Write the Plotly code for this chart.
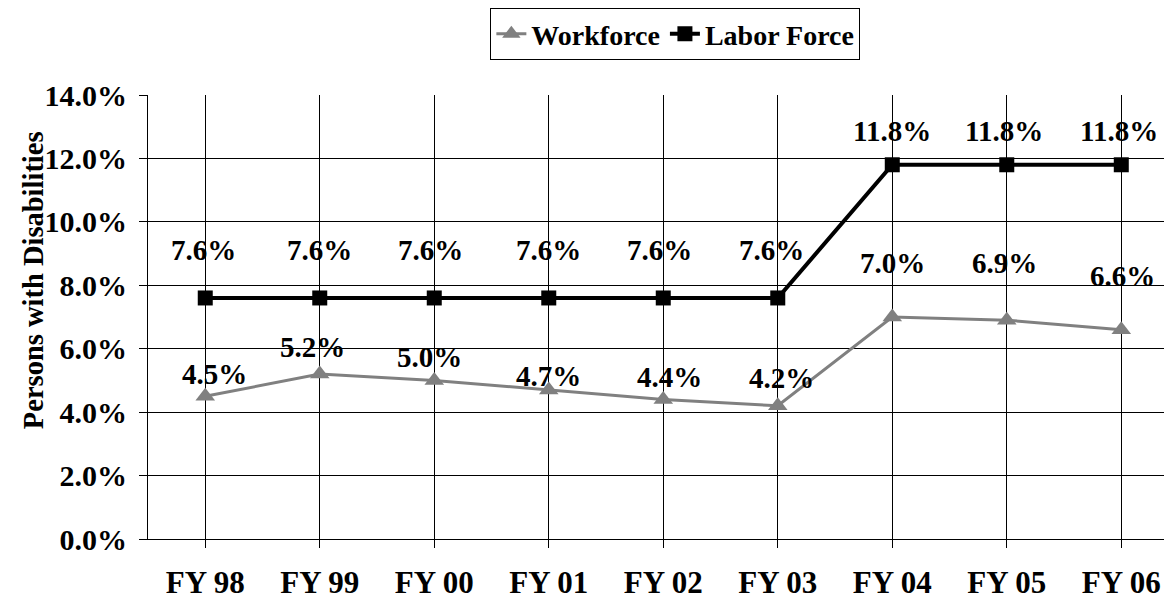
import plotly.graph_objects as go

categories = ["FY 98", "FY 99", "FY 00", "FY 01", "FY 02", "FY 03", "FY 04", "FY 05", "FY 06"]
workforce = [4.5, 5.2, 5.0, 4.7, 4.4, 4.2, 7.0, 6.9, 6.6]
labor_force = [7.6, 7.6, 7.6, 7.6, 7.6, 7.6, 11.8, 11.8, 11.8]
y_ticks = [0, 2, 4, 6, 8, 10, 12, 14]

# label offsets (style)
wf_yshift = [22, 27, 23, 14, 22, 28, 54, 57, 54]
wf_xshift = [9, -7, -5, 0, 6, 4, 0, -2, 1]
lf_yshift = [48, 48, 48, 48, 48, 48, 34, 34, 34]
lf_xshift = [-2, 0, -4, 0, -4, -6, 0, -3, -2]

FONT = "Liberation Serif"
fs = 29

xs = list(range(len(categories)))

fig = go.Figure()
fig.add_trace(go.Scatter(
    x=xs, y=workforce, mode="lines+markers", name="<b>Workforce</b>",
    line=dict(color="#808080", width=3),
    marker=dict(symbol="triangle-up", size=17, color="#808080"),
))
fig.add_trace(go.Scatter(
    x=xs, y=labor_force, mode="lines+markers", name="<b>Labor Force</b>",
    line=dict(color="black", width=4),
    marker=dict(symbol="square", size=15, color="black"),
))

for i, v in enumerate(workforce):
    fig.add_annotation(x=xs[i], y=v, text=f"<b>{v:.1f}%</b>", showarrow=False,
                       yshift=wf_yshift[i], xshift=wf_xshift[i],
                       font=dict(family=FONT, size=fs, color="black"))
for i, v in enumerate(labor_force):
    fig.add_annotation(x=xs[i], y=v, text=f"<b>{v:.1f}%</b>", showarrow=False,
                       yshift=lf_yshift[i], xshift=lf_xshift[i],
                       font=dict(family=FONT, size=fs, color="black"))

fig.add_annotation(xref="paper", yref="paper", x=-0.1123, y=0.583,
                   text="<b>Persons with Disabilities</b>", textangle=-90,
                   showarrow=False, xanchor="center", yanchor="middle",
                   font=dict(family=FONT, size=28.5, color="black"))

fig.update_layout(
    width=1172, height=601,
    margin=dict(l=140, r=8, t=87, b=70, autoexpand=False),
    plot_bgcolor="white", paper_bgcolor="white",
    font=dict(family=FONT, size=fs, color="black"),
    showlegend=True,
    legend=dict(orientation="h", x=0.515, xanchor="center", y=1.0, yanchor="top",
                yref="container",
                bordercolor="black", borderwidth=1, bgcolor="white",
                font=dict(family=FONT, size=28, color="black"),
                tracegroupgap=0),
    xaxis=dict(
        tickmode="array", tickvals=xs, ticktext=[f"<b>{c}</b>" for c in categories],
        range=[-0.5, 8.443], tickson="boundaries",
        showgrid=True, gridcolor="black", gridwidth=1,
        showline=True, linecolor="black", linewidth=1,
        ticks="outside", ticklen=8, tickcolor="black",
        ticklabelstandoff=8, zeroline=False, automargin=False,
        tickfont=dict(family=FONT, size=31, color="black"),
    ),
    yaxis=dict(
        range=[0, 14], tickmode="array", tickvals=y_ticks,
        ticktext=[f"<b>{t:.1f}%</b>" for t in y_ticks],
        showgrid=True, gridcolor="black", gridwidth=1,
        showline=True, linecolor="black", linewidth=1,
        ticks="outside", ticklen=8, tickcolor="black",
        ticklabelstandoff=6, zeroline=False, automargin=False,
        tickfont=dict(family=FONT, size=30, color="black"),
    ),
)

fig.write_html("out.html")
